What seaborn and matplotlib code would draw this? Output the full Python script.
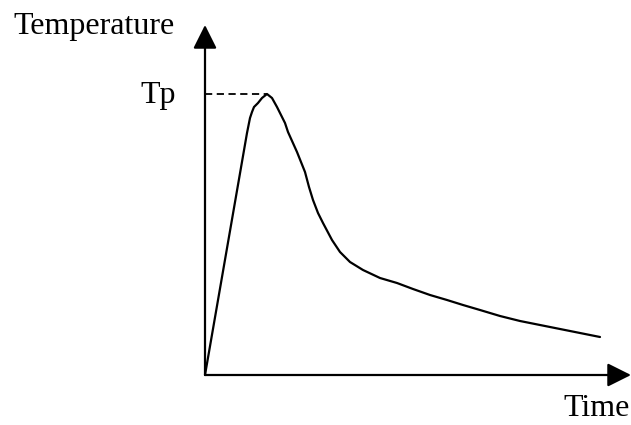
import numpy as np
import pandas as pd
import matplotlib
matplotlib.use("Agg")
import matplotlib.pyplot as plt
import seaborn as sns

# ── data (arbitrary units, origin at axes corner) ──────────────
time = [0, 42, 45, 47, 49, 53, 57, 62, 67, 72, 77, 80, 83, 92, 100, 104,
        108, 113, 118, 127, 135, 145, 158, 175, 192, 208, 225, 242, 258,
        275, 295, 315, 335, 355, 375, 395]
temperature = [0, 242, 257, 263, 268, 272, 277, 281, 277, 268, 258, 252,
               243, 223, 203, 188, 175, 162, 152, 135, 123, 113, 105, 97,
               92, 86, 80, 75, 70, 65, 59, 54, 50, 46, 42, 38]
peak_time = 62
peak_temp = 281
x_end = 426
y_end = 350

df = pd.DataFrame({"Time": time, "Temperature": temperature})

sns.set_style("white")
plt.rcParams['font.family'] = ['Liberation Serif', 'DejaVu Serif']

fig = plt.figure(figsize=(6.31, 4.25), dpi=100)
ax = fig.add_axes([0, 0, 1, 1])

sns.lineplot(data=df, x="Time", y="Temperature", sort=False, estimator=None,
             color="black", linewidth=1.6, ax=ax)

# dashed line to Tp
ax.plot([0, peak_time], [peak_temp, peak_temp], color="black",
        linewidth=1.3, dashes=(4, 2.5))

# axes with arrow heads
arrow = dict(arrowstyle="-|>,head_length=1.0,head_width=0.5", color="black",
             linewidth=1.6, mutation_scale=14.5, shrinkA=0, shrinkB=0)
ax.annotate("", xy=(0, y_end), xytext=(0, 0), arrowprops=arrow)
ax.annotate("", xy=(x_end, 0), xytext=(0, 0), arrowprops=arrow)

ax.text(-192, 341, "Temperature", fontsize=23, va="baseline", ha="left", color="black")
ax.text(-65, 272, "Tp", fontsize=23, va="baseline", ha="left", color="black")
ax.text(358, -41, "Time", fontsize=23, va="baseline", ha="left", color="black")

ax.set_xlim(-205, 426)
ax.set_ylim(-50, 375)
ax.axis("off")

fig.savefig("out.png", dpi=100)
